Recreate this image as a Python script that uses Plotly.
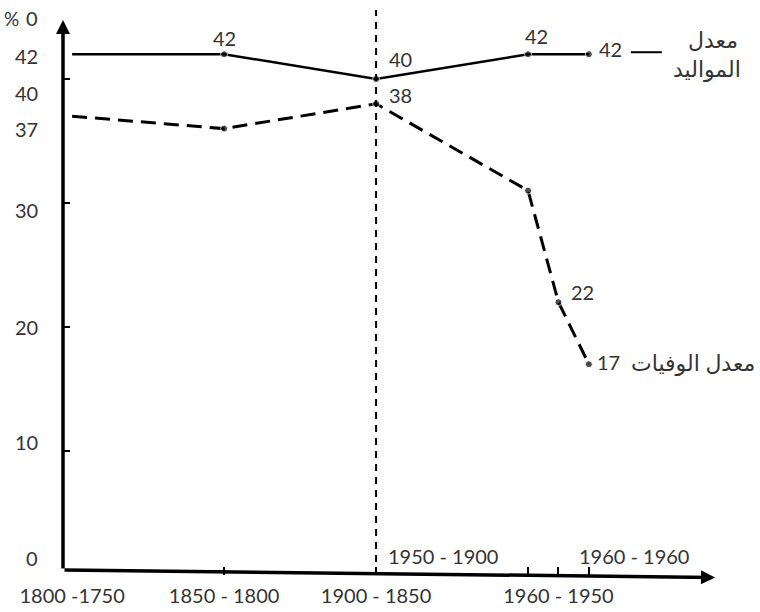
import plotly.graph_objects as go

# Birth and death rates (per thousand) by period
years_birth = [1750, 1800, 1850, 1900, 1920]
birth_rate = [42, 42, 40, 42, 42]
years_death = [1750, 1800, 1850, 1900, 1910, 1920]
death_rate = [37, 36, 38, 31, 22, 17]

# Axis annotations
period_ticks = [1800, 1850, 1900, 1910, 1920]
lower_periods = [1750, 1800, 1850, 1910]
lower_labels = ["1800 -1750", "1850 - 1800", "1900 - 1850", "1960 - 1950"]
upper_periods = [1872, 1935]
upper_labels = ["1950 - 1900", "1960 - 1960"]
y_labels = [42, 40, 37, 30, 20, 10, 0]
y_label_shift = [-2, -14, -13, -7, 0, 9, 17]
y_ticks = [10, 20, 30, 40]

birth_name = "معدل المواليد"
death_name = "معدل الوفيات"

FONT = "Lato, 'DejaVu Sans', sans-serif"
TXT = "#333333"
X_RANGE = [1747, 1961.5]
Y_RANGE = [0, 44.76]

fig = go.Figure()

fig.add_trace(go.Scatter(
    x=years_birth, y=birth_rate, mode="lines+markers", name=birth_name,
    line=dict(color="black", width=2.5),
    marker=dict(color="black", size=[0] + [7] * (len(years_birth) - 1)),
    showlegend=False, hoverinfo="skip",
))
fig.add_trace(go.Scatter(
    x=years_death, y=death_rate, mode="lines+markers", name=death_name,
    line=dict(color="black", width=3, dash="15px,8px"),
    marker=dict(color="black", size=[0] + [7] * (len(years_death) - 1)),
    showlegend=False, hoverinfo="skip",
))

annotations = []

# Axis arrows
annotations.append(dict(
    x=X_RANGE[0], y=Y_RANGE[1], ax=X_RANGE[0], ay=0.4,
    xref="x", yref="y", axref="x", ayref="y", text="",
    showarrow=True, arrowhead=2, arrowsize=0.8, arrowwidth=3.5, arrowcolor="black",
))
annotations.append(dict(
    x=X_RANGE[1], y=-0.2, ax=X_RANGE[0], ay=0.4,
    xref="x", yref="y", axref="x", ayref="y", text="",
    showarrow=True, arrowhead=2, arrowsize=0.8, arrowwidth=3.5, arrowcolor="black",
))

# Y-axis labels
for v, s in zip(y_labels, y_label_shift):
    annotations.append(dict(
        x=0, y=v, xref="paper", yref="y", text=str(v), showarrow=False,
        xanchor="right", yanchor="middle", xshift=-23, yshift=s,
        font=dict(family=FONT, size=20, color=TXT),
    ))
# unit marker above the y axis: "%" then "0"
annotations.append(dict(
    x=0, y=1, xref="paper", yref="paper", text="%", showarrow=False,
    xanchor="right", yanchor="middle", xshift=-42, yshift=2,
    font=dict(family=FONT, size=19, color=TXT),
))
annotations.append(dict(
    x=0, y=1, xref="paper", yref="paper", text="0", showarrow=False,
    xanchor="right", yanchor="middle", xshift=-23, yshift=2,
    font=dict(family=FONT, size=20, color=TXT),
))

# Upper period labels along the x axis
for xp, lab in zip(upper_periods, upper_labels):
    annotations.append(dict(
        x=xp, y=0, xref="x", yref="paper", text=lab, showarrow=False,
        xanchor="center", yanchor="middle", yshift=19,
        font=dict(family=FONT, size=20, color=TXT),
    ))

# Value labels on the points
def value_label(x, y, dx, dy, anchor="center"):
    annotations.append(dict(
        x=x, y=y, xref="x", yref="y", text=str(y), showarrow=False,
        xanchor=anchor, yanchor="middle", xshift=dx, yshift=dy,
        font=dict(family=FONT, size=20, color=TXT),
    ))

value_label(years_birth[1], birth_rate[1], 0, 16)
value_label(years_birth[2], birth_rate[2], 24, 20)
value_label(years_birth[3], birth_rate[3], 8, 18)
value_label(years_birth[4], birth_rate[4], 8, 5, anchor="left")
value_label(years_death[2], death_rate[2], 24, 9)
value_label(years_death[4], death_rate[4], 24, 10)
value_label(years_death[5], death_rate[5], 6, 2, anchor="left")

# Series names
name_font = dict(family=FONT, size=22, color=TXT)
annotations.append(dict(
    x=years_birth[-1], y=birth_rate[-1], xref="x", yref="y",
    text="معدل", showarrow=False, xanchor="center", yanchor="middle",
    xshift=124, yshift=15, font=name_font,
))
annotations.append(dict(
    x=years_birth[-1], y=birth_rate[-1], xref="x", yref="y",
    text="المواليد", showarrow=False, xanchor="center", yanchor="middle",
    xshift=118, yshift=-14, font=name_font,
))
annotations.append(dict(
    x=years_death[-1], y=death_rate[-1], xref="x", yref="y",
    text=death_name, showarrow=False, xanchor="right", yanchor="middle",
    xshift=168, yshift=2, font=name_font,
))

shapes = [
    # boundary between the two phases
    dict(type="line", xref="x", yref="paper", x0=1850, x1=1850, y0=0, y1=1.018,
         line=dict(color="black", width=2, dash="7px,6px")),
    # leader from the last birth value to its name
    dict(type="line", xref="x", yref="y", xsizemode="pixel", ysizemode="pixel",
         xanchor=years_birth[-1], yanchor=birth_rate[-1],
         x0=42, x1=73, y0=2, y1=2, line=dict(color="black", width=2)),
]

fig.update_layout(
    width=760, height=612,
    margin=dict(l=63, r=45, t=20, b=37),
    paper_bgcolor="white", plot_bgcolor="white",
    annotations=annotations, shapes=shapes,
    xaxis=dict(
        range=X_RANGE, showgrid=False, zeroline=False, showline=False,
        automargin=False,
        tickmode="array", tickvals=lower_periods, ticktext=lower_labels,
        ticks="", tickfont=dict(family=FONT, size=20, color=TXT),
        ticklabelstandoff=7,
        minor=dict(tickvals=period_ticks, ticks="inside", ticklen=8,
                   tickwidth=1.5, tickcolor="black"),
    ),
    yaxis=dict(
        range=Y_RANGE, showgrid=False, zeroline=False, showline=False,
        automargin=False,
        tickmode="array", tickvals=y_ticks, ticks="inside", ticklen=7,
        tickwidth=1.5, tickcolor="black", showticklabels=False,
    ),
)

fig.write_html("out.html")
